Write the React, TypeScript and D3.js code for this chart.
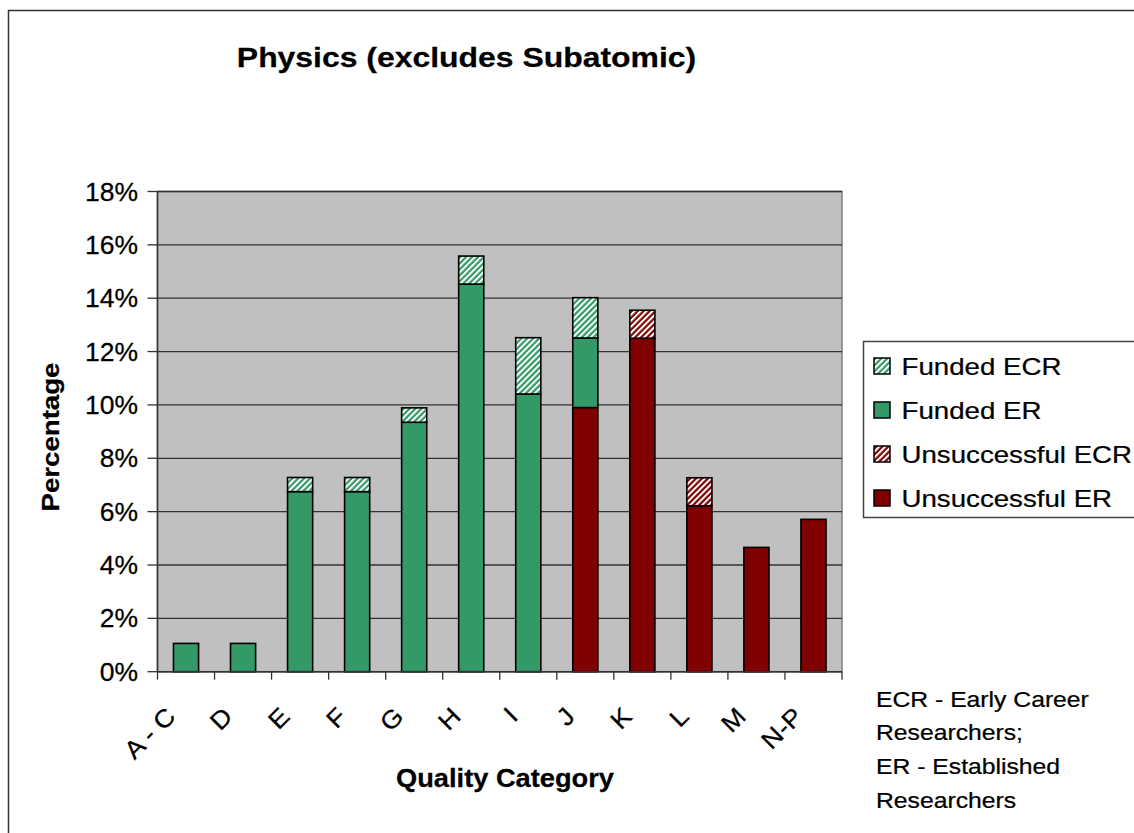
import React from "react";
import * as d3 from "d3";

const categories = ["A - C", "D", "E", "F", "G", "H", "I", "J", "K", "L", "M", "N-P"];
const unsuccessfulER = [0, 0, 0, 0, 0, 0, 0, 9.9, 12.5, 6.22, 4.66, 5.71];
const unsuccessfulECR = [0, 0, 0, 0, 0, 0, 0, 0, 1.05, 1.05, 0, 0];
const fundedER = [1.06, 1.06, 6.75, 6.75, 9.35, 14.53, 10.41, 2.61, 0, 0, 0, 0];
const fundedECR = [0, 0, 0.53, 0.53, 0.54, 1.05, 2.11, 1.51, 0, 0, 0, 0];
const yTicks = [0, 2, 4, 6, 8, 10, 12, 14, 16, 18];
const stackKeys = ["unsuccessfulER", "unsuccessfulECR", "fundedER", "fundedECR"];
const legendItems = [
  { key: "fundedECR", label: "Funded ECR" },
  { key: "fundedER", label: "Funded ER" },
  { key: "unsuccessfulECR", label: "Unsuccessful ECR" },
  { key: "unsuccessfulER", label: "Unsuccessful ER" },
];
const noteLines = ["ECR - Early Career", "Researchers;", "ER - Established", "Researchers"];

const GREEN = "#339966";
const RED = "#800000";
const fills: Record<string, string> = {
  unsuccessfulER: RED,
  unsuccessfulECR: "url(#hatchRed)",
  fundedER: GREEN,
  fundedECR: "url(#hatchGreen)",
};

const FONT = "Liberation Sans, Arial, sans-serif";

function T(props: {
  x: number; y: number; rot?: number; sx?: number; size: number; bold?: boolean;
  anchor?: string; baseline?: string; children: React.ReactNode;
}) {
  const { x, y, rot = 0, sx = 1.1, size, bold, anchor = "start", baseline, children } = props;
  return (
    <text
      transform={`translate(${x},${y}) rotate(${rot}) scale(${sx},1)`}
      fontFamily={FONT}
      fontSize={size}
      fontWeight={bold ? "bold" : "normal"}
      textAnchor={anchor}
      dominantBaseline={baseline}
      fill="#000"
      stroke="#000"
      strokeWidth={0.25}
    >
      {children}
    </text>
  );
}

export default function App() {
  const left = 157.5, right = 842, top = 191.5, bottom = 671.7;
  const rows = categories.map((c, i) => ({
    cat: c,
    unsuccessfulER: unsuccessfulER[i],
    unsuccessfulECR: unsuccessfulECR[i],
    fundedER: fundedER[i],
    fundedECR: fundedECR[i],
  }));
  const x = d3.scaleBand<string>().domain(categories).range([left, right]).paddingInner(0).paddingOuter(0);
  const y = d3.scaleLinear().domain([0, 18]).range([bottom, top]);
  const stack = d3.stack<any>().keys(stackKeys)(rows);
  const barW = x.bandwidth() * 0.44;

  return (
    <svg width={1134} height={833} style={{ position: "absolute", left: 0, top: 0, background: "#fff" }}>
      <defs>
        <pattern id="hatchGreen" patternUnits="userSpaceOnUse" width={4.2} height={4.2} patternTransform="rotate(45)">
          <rect width={4.2} height={4.2} fill={GREEN} />
          <rect width={2} height={4.2} fill="#fff" />
        </pattern>
        <pattern id="hatchRed" patternUnits="userSpaceOnUse" width={4.2} height={4.2} patternTransform="rotate(45)">
          <rect width={4.2} height={4.2} fill={RED} />
          <rect width={2} height={4.2} fill="#fff" />
        </pattern>
      </defs>
      {/* outer chart border */}
      <rect x={8.5} y={10.5} width={1140} height={840} fill="#fff" stroke="#333" strokeWidth={1.5} />

      {/* title */}
      <T x={466.5} y={66.5} size={28} bold anchor="middle" sx={1.14}>Physics (excludes Subatomic)</T>

      {/* plot area */}
      <rect x={left} y={top} width={right - left} height={bottom - top} fill="#C0C0C0" stroke="#808080" strokeWidth={1.5} />
      {yTicks.map((t) => (
        <line key={"g" + t} x1={left} x2={right} y1={y(t)} y2={y(t)} stroke="#333" strokeWidth={1.3} />
      ))}

      {/* bars */}
      {stack.map((s) => (
        <g key={s.key}>
          {s.map((d, i) => {
            const h = y(d[0]) - y(d[1]);
            if (h <= 0.01) return null;
            const cx = (x(categories[i]) as number) + x.bandwidth() / 2;
            return (
              <rect key={i} x={cx - barW / 2} y={y(d[1])} width={barW} height={h}
                fill={fills[s.key]} stroke="#000" strokeWidth={1.6} />
            );
          })}
        </g>
      ))}

      {/* y axis */}
      <line x1={left} x2={left} y1={top} y2={bottom} stroke="#333" strokeWidth={1.5} />
      {yTicks.map((t) => (
        <g key={"y" + t}>
          <line x1={left - 10} x2={left} y1={y(t)} y2={y(t)} stroke="#333" strokeWidth={1.3} />
          <T x={138} y={y(t) + 9} size={25} anchor="end" sx={1.06}>{t + "%"}</T>
        </g>
      ))}

      {/* x axis */}
      <line x1={left} x2={right} y1={bottom} y2={bottom} stroke="#333" strokeWidth={1.5} />
      {categories.map((c, i) => (
        <line key={"xt" + i} x1={x(c) as number} x2={x(c) as number} y1={bottom} y2={bottom + 8} stroke="#333" strokeWidth={1.3} />
      ))}
      <line x1={right} x2={right} y1={bottom} y2={bottom + 8} stroke="#333" strokeWidth={1.3} />
      {categories.map((c) => {
        const cx = (x(c) as number) + x.bandwidth() / 2;
        return (
          <T key={"xl" + c} x={cx - 9} y={718} rot={-45} size={25} anchor="end" sx={1.08}>{c}</T>
        );
      })}

      {/* axis titles */}
      <T x={59} y={437} rot={-90} size={24} bold anchor="middle" sx={1.15}>Percentage</T>
      <T x={505} y={786.5} size={25} bold anchor="middle" sx={1.09}>Quality Category</T>

      {/* legend */}
      <rect x={863.5} y={341.5} width={300} height={176} fill="#fff" stroke="#444" strokeWidth={1.5} />
      {legendItems.map((it, i) => {
        const by = 375 + i * 44;
        return (
          <g key={it.key}>
            <rect x={874} y={by - 17} width={16} height={16} fill={fills[it.key]} stroke="#000" strokeWidth={1.5} />
            <T x={901.5} y={by} size={24.7} sx={1.12}>{it.label}</T>
          </g>
        );
      })}

      {/* note */}
      {noteLines.map((l, i) => (
        <T key={"n" + i} x={876} y={706.7 + i * 33.7} size={21.5} sx={1.15}>{l}</T>
      ))}
    </svg>
  );
}
